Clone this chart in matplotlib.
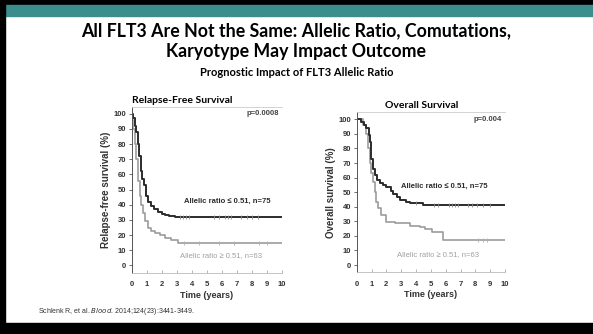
import matplotlib
matplotlib.use("Agg")
import matplotlib.pyplot as plt
from matplotlib.patches import Rectangle

# Relapse-free survival (years, %)
rfs_low_t = [0, 0.08, 0.2, 0.3, 0.42, 0.5, 0.6, 0.7, 0.8, 0.97, 1.1, 1.3, 1.5, 1.75, 2.0, 2.2, 2.5, 2.9, 10]
rfs_low_s = [100, 97, 92, 88, 80, 72, 62, 57, 53, 46, 42, 39, 37, 35.5, 34, 33, 32.5, 32, 32]
rfs_low_cens = [3.2, 3.4, 3.6, 3.8, 5.5, 5.8, 6.2, 6.4, 6.6, 7.3, 7.7, 8.0, 8.4]
rfs_high_t = [0, 0.05, 0.1, 0.2, 0.3, 0.4, 0.53, 0.65, 0.75, 0.9, 1.09, 1.3, 1.53, 1.9, 2.2, 2.6, 3.09, 10]
rfs_high_s = [100, 96, 90, 80, 70, 56, 45.5, 40, 34.5, 29, 24.6, 23, 21.3, 20, 18, 17, 14.5, 14.5]
rfs_high_cens = [3.5, 4.5, 5.8, 6.8, 8.5, 9.0]

# Overall survival (years, %)
os_low_t = [0, 0.3, 0.5, 0.65, 0.8, 0.87, 0.99, 1.1, 1.21, 1.4, 1.55, 1.8, 2.0, 2.3, 2.45, 2.7, 2.9, 3.35, 3.6, 4.47, 10]
os_low_s = [100, 98, 96, 93.8, 89, 84.6, 73, 66, 61.8, 58, 56, 55, 53.7, 51, 49, 46.5, 44.6, 43, 42.5, 41.5, 41.5]
os_low_cens = [4.0, 5.2, 5.5, 6.2, 6.4, 6.6, 6.8, 7.5, 7.8, 8.1, 8.5, 9.0]
os_high_t = [0, 0.42, 0.6, 0.76, 0.9, 0.99, 1.1, 1.21, 1.32, 1.43, 1.66, 2.0, 2.6, 3.12, 3.6, 4.25, 4.6, 5.1, 5.8, 10]
os_high_s = [100, 96, 90, 80, 70, 63, 57, 50, 43, 39, 34, 29.7, 29, 28.6, 27, 26.3, 25, 22.9, 17.2, 17.2]
os_high_cens = [8.2, 8.5, 8.8]

x_ticks = list(range(0, 11))
y_ticks = list(range(0, 101, 10))

dark = "#2c2c2c"
light = "#9c9c9c"
teal = "#3b8d8e"


def step_value(t, s, x):
    v = s[0]
    for ti, si in zip(t, s):
        if ti <= x:
            v = si
    return v


def km_panel(ax, lo_t, lo_s, lo_c, hi_t, hi_s, hi_c, ylab, title, title_x,
             pval, lo_xy, hi_xy):
    ax.step(hi_t, hi_s, where="post", color=light, lw=1.2)
    ax.step(lo_t, lo_s, where="post", color=dark, lw=1.4)
    ax.plot(lo_c, [step_value(lo_t, lo_s, c) for c in lo_c], ls="none",
            marker="|", ms=3.5, mew=0.6, color="#8a8a8a")
    ax.plot(hi_c, [step_value(hi_t, hi_s, c) for c in hi_c], ls="none",
            marker="|", ms=3.5, mew=0.6, color="#b0b0b0")
    ax.set_xlim(0, 10)
    ax.set_xticks(x_ticks)
    ax.set_yticks(y_ticks)
    ax.tick_params(axis="y", direction="out", length=2.5, width=0.6,
                   color="#555555", labelsize=5.5, pad=1.5)
    ax.tick_params(axis="x", direction="in", length=2.5, width=0.6,
                   color="#aaaaaa", labelsize=5.5, pad=6)
    for lab in ax.get_xticklabels() + ax.get_yticklabels():
        lab.set_fontweight("bold")
        lab.set_color("#333333")
    ax.spines["right"].set_visible(False)
    ax.spines["left"].set_color("#555555")
    ax.spines["left"].set_linewidth(0.7)
    ax.spines["bottom"].set_color("#bbbbbb")
    ax.spines["bottom"].set_linewidth(0.6)
    ax.spines["top"].set_color("#cccccc")
    ax.spines["top"].set_linewidth(0.6)
    ax.set_ylabel(ylab, fontsize=7, fontweight="bold", color="#333333",
                  labelpad=2)
    ax.set_xlabel("Time (years)", fontsize=6.5, fontweight="bold",
                  color="#333333", labelpad=2)
    ax.text(title_x, 1.012, title, transform=ax.transAxes, fontsize=7.5,
            fontweight="bold", family="Lato", ha="center", va="bottom")
    ax.text(9.8, 100, pval, fontsize=5.5, fontweight="bold", color="#444444",
            ha="right", va="center")
    ax.text(lo_xy[0], lo_xy[1], "Allelic ratio \u2264 0.51, n=75",
            fontsize=5.5, fontweight="bold", color=dark, ha="left",
            va="center")
    ax.text(hi_xy[0], hi_xy[1], "Allelic ratio \u2265 0.51, n=63",
            fontsize=5.5, color="#a0a0a0", ha="left", va="center")


plt.rcParams["font.family"] = ["Liberation Sans", "DejaVu Sans"]

fig = plt.figure(figsize=(5.93, 3.34), dpi=100)
fig.patch.set_facecolor("white")

# slide frame: black edges and teal header band
fig.patches.append(Rectangle((0, 0.985), 1, 0.015, transform=fig.transFigure,
                             color="black", zorder=0))
fig.patches.append(Rectangle((0, 0.952), 1, 0.033, transform=fig.transFigure,
                             color=teal, zorder=0))
fig.patches.append(Rectangle((0, 0), 0.009, 1, transform=fig.transFigure,
                             color="black", zorder=0))
fig.patches.append(Rectangle((0, 0), 1, 0.034, transform=fig.transFigure,
                             color="black", zorder=0))

fig.text(0.5, 0.907, "All FLT3 Are Not the Same: Allelic Ratio, Comutations,",
         ha="center", va="center", fontsize=12.8, fontweight="bold",
         family="Lato")
fig.text(0.5, 0.845, "Karyotype May Impact Outcome", ha="center", va="center",
         fontsize=12.8, fontweight="bold", family="Lato")
fig.text(0.5, 0.784, "Prognostic Impact of FLT3 Allelic Ratio", ha="center",
         va="center", fontsize=8, fontweight="bold", family="Lato")

ax1 = fig.add_axes([0.2221, 0.1826, 0.2530, 0.497])
ax1.set_ylim(-5, 104.5)
km_panel(ax1, rfs_low_t, rfs_low_s, rfs_low_cens,
         rfs_high_t, rfs_high_s, rfs_high_cens,
         "Relapse-free survival (%)", "Relapse-Free Survival", 0.34,
         "p=0.0008", (3.5, 42), (3.2, 6.6))

ax2 = fig.add_axes([0.6015, 0.1847, 0.2501, 0.480])
ax2.set_ylim(-5, 105)
km_panel(ax2, os_low_t, os_low_s, os_low_cens,
         os_high_t, os_high_s, os_high_cens,
         "Overall survival (%)", "Overall Survival", 0.44,
         "p=0.004", (3.0, 53.7), (2.7, 7.5))

fig.text(0.064, 0.067, "Schlenk R, et al. $\\it{Blood}$. 2014;124(23):3441-3449.",
         fontsize=5.0, color="#333333", ha="left", va="center")

fig.savefig("out.png", dpi=100, facecolor="white")
